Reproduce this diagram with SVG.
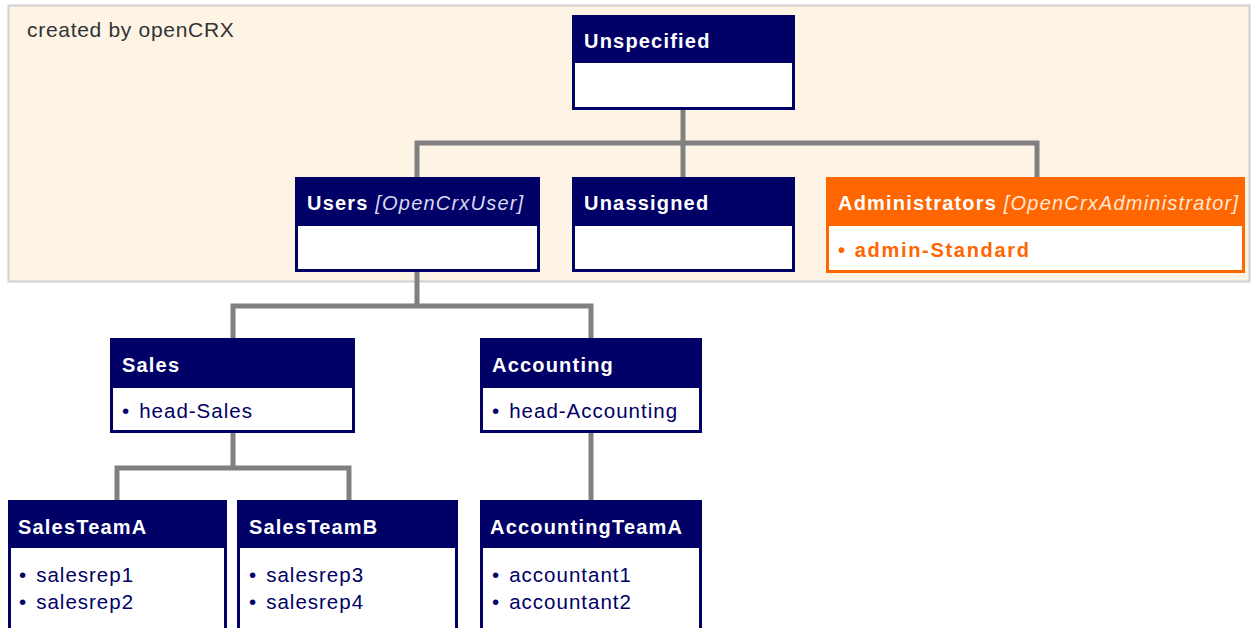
<svg xmlns="http://www.w3.org/2000/svg" width="1254" height="628" viewBox="0 0 1254 628">
<style>
.hdr{font-family:"Liberation Sans",Arial,sans-serif;font-weight:bold;font-size:20px;fill:#ffffff;letter-spacing:1.2px}
.typ{font-weight:normal;font-style:italic;fill:#d8d8f0}
.atyp{font-weight:normal;font-style:italic;fill:#ffe8d8}
.item{font-family:"Liberation Sans",Arial,sans-serif;font-size:20.5px;fill:#000066;letter-spacing:1px}
.aitem{font-family:"Liberation Sans",Arial,sans-serif;font-size:20px;font-weight:bold;fill:#ff6600;letter-spacing:1.7px}
.navy{fill:#000066}
.orange{fill:#ff6600}
.body{fill:#ffffff}
.conn{fill:none;stroke:#808080;stroke-width:5}
</style>
<rect width="1254" height="628" fill="#ffffff"/>
<g id="panel">
<rect x="8.5" y="5.5" width="1241" height="276" fill="#fdf4e5" stroke="#cfcfcf" stroke-width="2"/>
<text x="27" y="37" font-family="Liberation Sans,Arial,sans-serif" font-size="21" letter-spacing="0.7" fill="#333333">created by openCRX</text>
</g>
<g id="connectors">
<path class="conn" d="M683 110V177M417 177V143H1037V177"/>
<path class="conn" d="M417 272V306M233 338V306H591V338"/>
<path class="conn" d="M233 433V468M117 500V468H349V500"/>
<path class="conn" d="M591 433V500"/>
</g>
<g id="unspecified">
<rect class="navy" x="572" y="15" width="223" height="95"/>
<rect class="body" x="575" y="63" width="217" height="44"/>
<text class="hdr" x="584" y="48">Unspecified</text>
</g>
<g id="users">
<rect class="navy" x="295" y="177" width="245" height="95"/>
<rect class="body" x="298" y="226" width="239" height="43"/>
<text class="hdr" x="307" y="210">Users <tspan class="typ">[OpenCrxUser]</tspan></text>
</g>
<g id="unassigned">
<rect class="navy" x="572" y="177" width="223" height="95"/>
<rect class="body" x="575" y="226" width="217" height="43"/>
<text class="hdr" x="584" y="210">Unassigned</text>
</g>
<g id="administrators">
<rect class="orange" x="826" y="177" width="419" height="96"/>
<rect class="body" x="829" y="226" width="413" height="44"/>
<text class="hdr" x="838" y="210">Administrators <tspan class="atyp">[OpenCrxAdministrator]</tspan></text>
<text class="aitem" x="838" y="257">•<tspan dx="8">admin-Standard</tspan></text>
</g>
<g id="sales">
<rect class="navy" x="110" y="338" width="245" height="95"/>
<rect class="body" x="113" y="388" width="239" height="42"/>
<text class="hdr" x="122" y="372">Sales</text>
<text class="item" x="122" y="418">•<tspan dx="9">head-Sales</tspan></text>
</g>
<g id="accounting">
<rect class="navy" x="480" y="338" width="222" height="95"/>
<rect class="body" x="483" y="388" width="216" height="42"/>
<text class="hdr" x="492" y="372">Accounting</text>
<text class="item" x="492" y="418">•<tspan dx="9">head-Accounting</tspan></text>
</g>
<g id="salesteama">
<rect class="navy" x="8" y="500" width="219" height="140"/>
<rect class="body" x="11" y="548" width="213" height="90"/>
<text class="hdr" x="18" y="534">SalesTeamA</text>
<text class="item" x="19" y="582">•<tspan dx="9">salesrep1</tspan></text>
<text class="item" x="19" y="609">•<tspan dx="9">salesrep2</tspan></text>
</g>
<g id="salesteamb">
<rect class="navy" x="237" y="500" width="221" height="140"/>
<rect class="body" x="240" y="548" width="215" height="90"/>
<text class="hdr" x="249" y="534">SalesTeamB</text>
<text class="item" x="249" y="582">•<tspan dx="9">salesrep3</tspan></text>
<text class="item" x="249" y="609">•<tspan dx="9">salesrep4</tspan></text>
</g>
<g id="accountingteama">
<rect class="navy" x="480" y="500" width="222" height="140"/>
<rect class="body" x="483" y="548" width="216" height="90"/>
<text class="hdr" x="490" y="534">AccountingTeamA</text>
<text class="item" x="492" y="582">•<tspan dx="9">accountant1</tspan></text>
<text class="item" x="492" y="609">•<tspan dx="9">accountant2</tspan></text>
</g>
</svg>
